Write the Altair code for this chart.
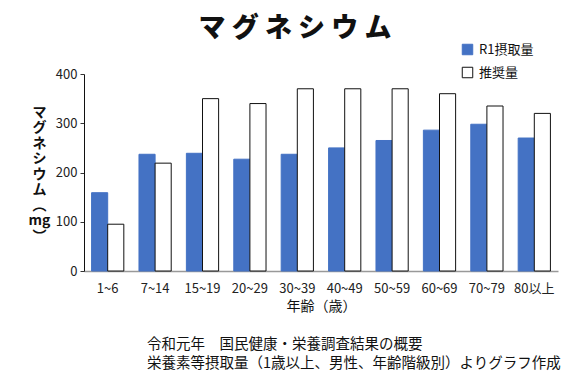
import altair as alt
import pandas as pd

ages = ["1~6", "7~14", "15~19", "20~29", "30~39", "40~49", "50~59", "60~69", "70~79", "80以上"]
intake = [159, 237, 239, 227, 237, 250, 265, 286, 298, 270]
recommended = [95, 219, 350, 340, 370, 370, 370, 360, 335, 320]
series = ["R1摂取量", "推奨量"]
yticks = [0, 100, 200, 300, 400]
ytitle = ["マ", "グ", "ネ", "シ", "ウ", "ム", "︵", "mg", "︶"]
title_text = "マ グ ネ シ ウ ム"
notes = ["令和元年　国民健康・栄養調査結果の概要",
         "栄養素等摂取量（1歳以上、男性、年齢階級別）よりグラフ作成"]

rows = []
for a, v in zip(ages, intake):
    rows.append({"age": a, "series": series[0], "value": v})
for a, v in zip(ages, recommended):
    rows.append({"age": a, "series": series[1], "value": v})
df = pd.DataFrame(rows)

FONT = "Noto Sans CJK JP"

bars = alt.Chart(df).mark_bar(strokeWidth=1).encode(
    x=alt.X("age:N", sort=ages, scale=alt.Scale(paddingInner=0.32, paddingOuter=0.16),
            axis=alt.Axis(title="年齢（歳）", labelAngle=0, labelFontSize=13, labelPadding=11,
                          ticks=False, domainColor="#999999", domainWidth=1.5,
                          labelColor="#222222", titleFontSize=14, titleFontWeight="normal",
                          titlePadding=4, titleColor="#111111")),
    xOffset=alt.XOffset("series:N", sort=series, scale=alt.Scale(paddingInner=0, paddingOuter=0)),
    y=alt.Y("value:Q", scale=alt.Scale(domain=[0, 400]),
            axis=alt.Axis(values=yticks, grid=False, tickSize=4, tickColor="#333333",
                          domainColor="#111111", labelFontSize=13, labelColor="#222222",
                          labelPadding=3, title=ytitle, titleAngle=0, titleFontSize=14,
                          titleFontWeight="bold", titleLineHeight=15.5, titleX=-45,
                          titleY=31, titleBaseline="top", titleAlign="center",
                          titleColor="#111111")),
    color=alt.Color("series:N", sort=series,
                    scale=alt.Scale(domain=series, range=["#4472C4", "#FFFFFF"]),
                    legend=alt.Legend(title=None, orient="none", legendX=377, legendY=-31,
                                      symbolType="square", symbolSize=110, labelFontSize=13,
                                      labelColor="#111111", rowPadding=8, labelOffset=5,
                                      padding=0, symbolStrokeWidth=1)),
    stroke=alt.Stroke("series:N", sort=series,
                      scale=alt.Scale(domain=series, range=["#4472C4", "#111111"]),
                      legend=None),
)

title_layer = alt.Chart(pd.DataFrame({"t": [title_text]})).mark_text(
    align="center", baseline="middle", fontSize=27, fontWeight=900, font=FONT, color="#111111"
).encode(x=alt.value(211), y=alt.value(-45), text="t:N")

note1 = alt.Chart(pd.DataFrame({"t": [notes[0]]})).mark_text(
    align="left", baseline="middle", fontSize=14.5, font=FONT, color="#111111"
).encode(x=alt.value(63), y=alt.value(271), text="t:N")
note2 = alt.Chart(pd.DataFrame({"t": [notes[1]]})).mark_text(
    align="left", baseline="middle", fontSize=14.5, font=FONT, color="#111111"
).encode(x=alt.value(63), y=alt.value(290), text="t:N")

chart = alt.layer(bars, title_layer, note1, note2).properties(
    width=474, height=197,
    autosize=alt.AutoSizeParams(type="none"),
    padding={"left": 76, "top": 66, "right": 7, "bottom": 108},
).configure(font=FONT).configure_view(stroke=None).configure_legend(
    symbolStrokeColor="#111111")

chart.save("out.html", embed_options={"renderer": "svg", "actions": False})
